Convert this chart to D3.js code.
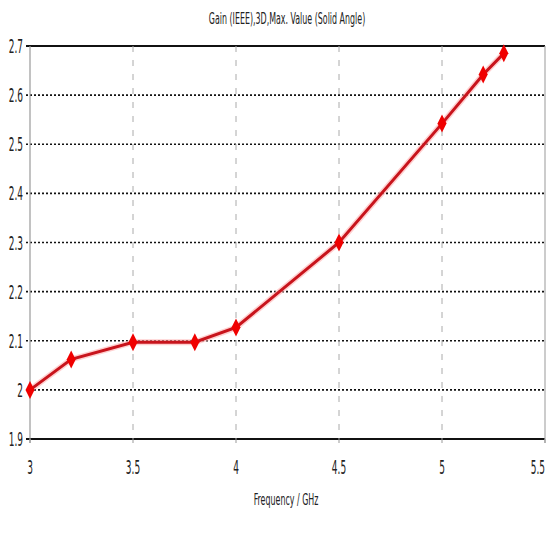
<!DOCTYPE html>
<html lang="en">
<head>
  <meta charset="UTF-8">
  <title>Gain</title>
  <style>
    body { margin: 0; background: #fff; }
    text { font-family: "Liberation Sans Narrow", "DejaVu Sans Condensed", sans-serif; fill: #222; }
  </style>
</head>
<body>
  <svg id="svg" width="549" height="535"></svg>
  <script src="https://d3js.org/d3.v7.min.js"></script>
  <script>
    const freq = [3, 3.2, 3.5, 3.8, 4, 4.5, 5, 5.2, 5.3]
    const gain = [2.0, 2.062, 2.097, 2.097, 2.127, 2.3, 2.542, 2.642, 2.685]
    const xTicks = [3, 3.5, 4, 4.5, 5, 5.5]
    const yTicks = [1.9, 2, 2.1, 2.2, 2.3, 2.4, 2.5, 2.6, 2.7]

    const plotLeft = 30, plotRight = 545, plotTop = 46, plotBottom = 439
    const svg = d3.select('#svg')
    const xScale = d3.scaleLinear().domain([3, 5.5]).range([plotLeft, plotRight])
    const yScale = d3.scaleLinear().domain([1.9, 2.7]).range([plotBottom, plotTop])

    // horizontal grid (dotted), top/bottom solid
    svg.append('g')
      .selectAll('line')
      .data(yTicks)
      .enter()
      .append('line')
      .attr('x1', plotLeft - 4)
      .attr('x2', plotRight)
      .attr('y1', d => yScale(d))
      .attr('y2', d => yScale(d))
      .attr('stroke', '#111')
      .attr('stroke-width', d => (d === 1.9 || d === 2.7) ? 2 : 1.6)
      .attr('stroke-dasharray', d => (d === 1.9 || d === 2.7) ? null : '2,2')

    // vertical grid (dashed gray)
    svg.append('g')
      .selectAll('line')
      .data(xTicks.slice(1, -1))
      .enter()
      .append('line')
      .attr('x1', d => xScale(d))
      .attr('x2', d => xScale(d))
      .attr('y1', plotTop)
      .attr('y2', plotBottom)
      .attr('stroke', '#aaa')
      .attr('stroke-width', 1)
      .attr('stroke-dasharray', '6,8')

    // left/right borders
    svg.append('line')
      .attr('x1', plotLeft).attr('x2', plotLeft).attr('y1', plotTop).attr('y2', plotBottom + 4)
      .attr('stroke', '#999').attr('stroke-width', 1.2)
    svg.append('line')
      .attr('x1', plotRight).attr('x2', plotRight).attr('y1', plotTop).attr('y2', plotBottom + 4)
      .attr('stroke', '#aaa').attr('stroke-width', 1.2)

    // x tick marks
    svg.append('g')
      .selectAll('line')
      .data(xTicks)
      .enter()
      .append('line')
      .attr('x1', d => xScale(d))
      .attr('x2', d => xScale(d))
      .attr('y1', plotBottom)
      .attr('y2', plotBottom + 4)
      .attr('stroke', '#999')

    // y labels
    svg.append('g')
      .selectAll('text')
      .data(yTicks)
      .enter()
      .append('text')
      .text(d => d)
      .attr('transform', d => `translate(23, ${yScale(d) + 7}) scale(0.5, 1)`)
      .attr('text-anchor', 'end')
      .style('font-size', '20px')

    // x labels
    svg.append('g')
      .selectAll('text')
      .data(xTicks)
      .enter()
      .append('text')
      .text(d => d)
      .attr('transform', d => `translate(${xScale(d)}, 474) scale(0.5, 1)`)
      .attr('text-anchor', (d, i) => i === xTicks.length - 1 ? 'end' : 'middle')
      .style('font-size', '20px')

    // title and axis label
    svg.append('text')
      .text('Gain (IEEE),3D,Max. Value (Solid Angle)')
      .attr('transform', 'translate(287, 24) scale(0.55, 1)')
      .attr('text-anchor', 'middle')
      .style('font-size', '16px')
    svg.append('text')
      .text('Frequency / GHz')
      .attr('transform', 'translate(286, 505) scale(0.55, 1)')
      .attr('text-anchor', 'middle')
      .style('font-size', '16px')

    // data line
    const pts = freq.map((f, i) => [f, gain[i]])
    const line = d3.line().x(d => xScale(d[0])).y(d => yScale(d[1]))
    svg.append('path')
      .datum(pts)
      .attr('d', line)
      .attr('fill', 'none')
      .attr('stroke', '#ffb0b0')
      .attr('stroke-width', 6)
      .attr('stroke-opacity', 0.6)
    svg.append('path')
      .datum(pts)
      .attr('d', line)
      .attr('fill', 'none')
      .attr('stroke', '#c8141c')
      .attr('stroke-width', 3)

    // diamond markers
    svg.append('g')
      .selectAll('path')
      .data(pts)
      .enter()
      .append('path')
      .attr('d', 'M0,-9 L4.5,0 L0,9 L-4.5,0 Z')
      .attr('transform', d => `translate(${xScale(d[0])}, ${yScale(d[1])})`)
      .attr('fill', '#f00000')
  </script>
</body>
</html>
